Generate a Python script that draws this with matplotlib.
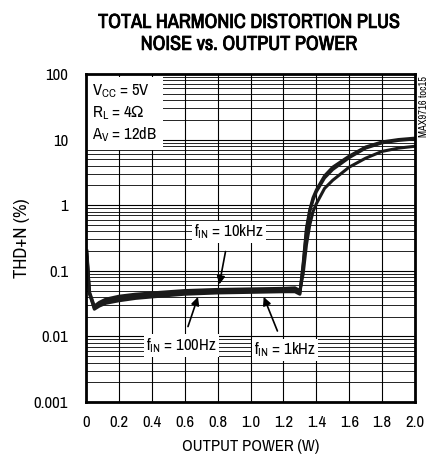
import matplotlib
matplotlib.use('Agg')
import matplotlib.pyplot as plt
from matplotlib import font_manager
import matplotlib.patheffects as pe
import numpy as np

# narrow sans if available
names = sorted({f.name for f in font_manager.fontManager.ttflist})
narrow = [n for n in names if 'Narrow' in n] + [n for n in names if 'Condensed' in n]
if narrow:
    fam = narrow[0]
    fs, tfs = 12, 14.5
else:
    fam = 'Liberation Sans'
    fs, tfs = 10, 11.5
plt.rcParams['font.family'] = [fam, 'DejaVu Sans']

# output power (W)
power = [0.005, 0.02, 0.05, 0.08, 0.12, 0.2, 0.3, 0.4, 0.5, 0.6, 0.8, 1.0, 1.2, 1.27, 1.30,
         1.32, 1.34, 1.36, 1.38, 1.40, 1.45, 1.5, 1.6, 1.7, 1.8, 1.9, 2.0]
# THD+N (%)
thd_100hz = [0.2, 0.045, 0.026, 0.029, 0.032, 0.035, 0.038, 0.040, 0.042, 0.044, 0.046, 0.047,
             0.048, 0.048, 0.044, 0.12, 0.4, 0.8, 1.2, 1.6, 2.6, 3.5, 5.3, 7.4, 8.9, 9.7, 10.2]
thd_1khz = [0.18, 0.046, 0.027, 0.031, 0.034, 0.038, 0.041, 0.043, 0.045, 0.046, 0.048, 0.049,
            0.050, 0.050, 0.046, 0.13, 0.45, 0.85, 1.3, 1.7, 2.8, 3.8, 5.6, 7.7, 9.2, 10.0, 10.5]
thd_10khz = [0.16, 0.048, 0.029, 0.033, 0.037, 0.041, 0.044, 0.046, 0.048, 0.050, 0.052, 0.053,
             0.054, 0.055, 0.050, 0.09, 0.25, 0.5, 0.8, 1.05, 1.8, 2.4, 3.8, 5.2, 6.6, 7.4, 7.9]

x_ticks = [0, 0.2, 0.4, 0.6, 0.8, 1.0, 1.2, 1.4, 1.6, 1.8, 2.0]
x_ticklabels = ['0', '0.2', '0.4', '0.6', '0.8', '1.0', '1.2', '1.4', '1.6', '1.8', '2.0']
y_ticks = [0.001, 0.01, 0.1, 1, 10, 100]
y_ticklabels = ['0.001', '0.01', '0.1', '1', '10', '100']

fig = plt.figure(figsize=(4.35, 4.59), dpi=100)
ax = fig.add_axes([0.198, 0.124, 0.756, 0.715])

ax.set_yscale('log')
ax.set_xlim(0, 2.0)
ax.set_ylim(0.001, 100)

# grid
for xv in np.arange(0, 2.01, 0.2):
    ax.axvline(xv, color='black', lw=0.8, zorder=1)
for dec in [0.001, 0.01, 0.1, 1, 10]:
    ax.axhline(dec, color='black', lw=0.8, zorder=1)
    for m in range(2, 10):
        ax.axhline(dec * m, color='black', lw=0.6, zorder=1)

for yv in [thd_100hz, thd_1khz, thd_10khz]:
    ax.plot(power, yv, color='#1a1a1a', lw=2.2, zorder=3, solid_joinstyle='round')

ax.set_xticks(x_ticks)
ax.set_xticklabels(x_ticklabels)
ax.set_yticks(y_ticks)
ax.set_yticklabels(y_ticklabels)
ax.minorticks_off()
ax.tick_params(axis='y', length=0, labelsize=fs, pad=13)
ax.tick_params(axis='x', length=0, labelsize=fs, pad=9)
for s in ax.spines.values():
    s.set_linewidth(2)
    s.set_zorder(5)

ax.set_xlabel('OUTPUT POWER (W)', fontsize=fs, labelpad=7)
ax.set_ylabel('THD+N (%)', fontsize=fs + 1.5, labelpad=3)

fig.text(0.572, 0.972, 'TOTAL HARMONIC DISTORTION PLUS\nNOISE vs. OUTPUT POWER',
         ha='center', va='top', fontsize=tfs, fontweight='bold', linespacing=1.2,
         path_effects=[pe.withStroke(linewidth=0.6, foreground='black')])
fig.text(0.974, 0.835, 'MAX9716 toc15', rotation=90, ha='center', va='top', fontsize=7.5)

box = dict(facecolor='white', edgecolor='none', pad=1.5)
ax.text(0.035, 75, '$\\mathregular{V_{CC}}$ = 5V\n$\\mathregular{R_L}$ = 4$\\mathregular{\\Omega}$\n$\\mathregular{A_V}$ = 12dB',
        fontsize=fs, va='top', ha='left', linespacing=1.25,
        bbox=dict(facecolor='white', edgecolor='none', pad=4), zorder=4)

ax.annotate('$\\mathregular{f_{IN}}$ = 10kHz', xy=(0.81, 0.062), xytext=(0.87, 0.39),
            ha='center', va='center', fontsize=fs, bbox=box, zorder=4,
            arrowprops=dict(arrowstyle='-|>', color='black', lw=1.2, shrinkA=6, shrinkB=0))
ax.annotate('$\\mathregular{f_{IN}}$ = 100Hz', xy=(0.68, 0.040), xytext=(0.58, 0.0072),
            ha='center', va='center', fontsize=fs, bbox=box, zorder=4,
            arrowprops=dict(arrowstyle='-|>', color='black', lw=1.2, shrinkA=6, shrinkB=0))
ax.annotate('$\\mathregular{f_{IN}}$ = 1kHz', xy=(1.08, 0.040), xytext=(1.21, 0.0062),
            ha='center', va='center', fontsize=fs, bbox=box, zorder=4,
            arrowprops=dict(arrowstyle='-|>', color='black', lw=1.2, shrinkA=6, shrinkB=0))

fig.savefig('out.png', dpi=100)
